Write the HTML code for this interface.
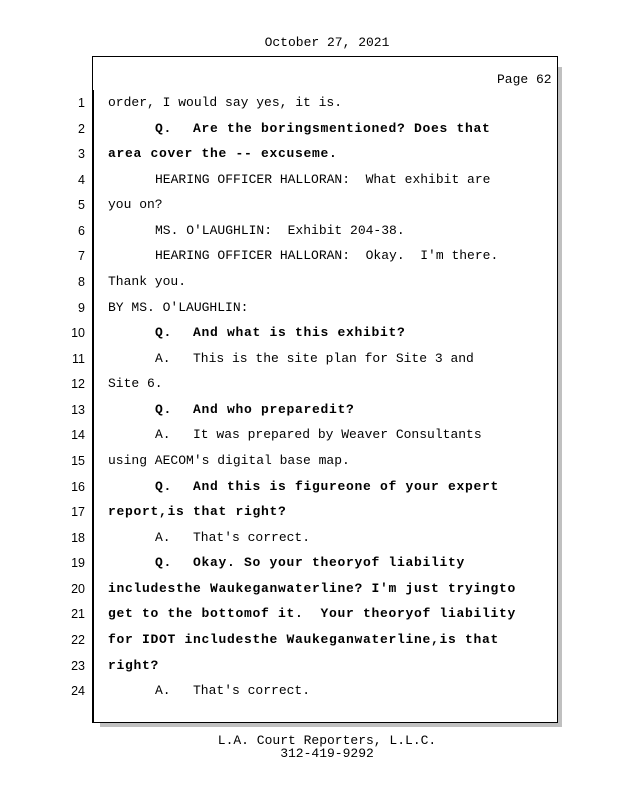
<!DOCTYPE html>
<html><head><meta charset="utf-8"><style>
body{margin:0;width:618px;height:800px;background:#fff;position:relative;overflow:hidden;font-family:"Liberation Mono",monospace;font-size:13px;color:#000}
.a{position:absolute;white-space:pre;line-height:18px}
.n{position:absolute;width:30px;left:55px;text-align:right;font-family:"Liberation Sans",sans-serif;font-size:12.5px;line-height:18px}
.b{font-weight:bold;letter-spacing:0.7px}
</style></head><body>
<div class="a" style="left:0;width:654px;text-align:center;top:34px">October 27, 2021</div>
<div style="position:absolute;left:100px;top:67px;width:462px;height:660px;background:#c0c0c0"></div>
<div style="position:absolute;left:92px;top:56px;width:464px;height:665px;border:1.5px solid #000;background:#fff"></div>
<div class="a" style="left:497px;top:71px">Page 62</div>
<div class="n" style="top:94px">1</div><div class="a" style="left:108px;top:94px">order, I would say yes, it is.</div>
<div class="n" style="top:119.6px">2</div><div class="a b" style="left:155px;top:119.6px">Q.</div><div class="a b" style="left:193px;top:119.6px">Are the boringsmentioned? Does that</div>
<div class="n" style="top:145.1px">3</div><div class="a b" style="left:108px;top:145.1px">area cover the -- excuseme.</div>
<div class="n" style="top:170.7px">4</div><div class="a" style="left:155px;top:170.7px">HEARING OFFICER HALLORAN:  What exhibit are</div>
<div class="n" style="top:196.3px">5</div><div class="a" style="left:108px;top:196.3px">you on?</div>
<div class="n" style="top:221.9px">6</div><div class="a" style="left:155px;top:221.9px">MS. O'LAUGHLIN:  Exhibit 204-38.</div>
<div class="n" style="top:247.4px">7</div><div class="a" style="left:155px;top:247.4px">HEARING OFFICER HALLORAN:  Okay.  I'm there.</div>
<div class="n" style="top:273px">8</div><div class="a" style="left:108px;top:273px">Thank you.</div>
<div class="n" style="top:298.6px">9</div><div class="a" style="left:108px;top:298.6px">BY MS. O'LAUGHLIN:</div>
<div class="n" style="top:324.1px">10</div><div class="a b" style="left:155px;top:324.1px">Q.</div><div class="a b" style="left:193px;top:324.1px">And what is this exhibit?</div>
<div class="n" style="top:349.7px">11</div><div class="a" style="left:155px;top:349.7px">A.</div><div class="a" style="left:193px;top:349.7px">This is the site plan for Site 3 and</div>
<div class="n" style="top:375.3px">12</div><div class="a" style="left:108px;top:375.3px">Site 6.</div>
<div class="n" style="top:400.8px">13</div><div class="a b" style="left:155px;top:400.8px">Q.</div><div class="a b" style="left:193px;top:400.8px">And who preparedit?</div>
<div class="n" style="top:426.4px">14</div><div class="a" style="left:155px;top:426.4px">A.</div><div class="a" style="left:193px;top:426.4px">It was prepared by Weaver Consultants</div>
<div class="n" style="top:452px">15</div><div class="a" style="left:108px;top:452px">using AECOM's digital base map.</div>
<div class="n" style="top:477.6px">16</div><div class="a b" style="left:155px;top:477.6px">Q.</div><div class="a b" style="left:193px;top:477.6px">And this is figureone of your expert</div>
<div class="n" style="top:503.1px">17</div><div class="a b" style="left:108px;top:503.1px">report,is that right?</div>
<div class="n" style="top:528.7px">18</div><div class="a" style="left:155px;top:528.7px">A.</div><div class="a" style="left:193px;top:528.7px">That's correct.</div>
<div class="n" style="top:554.3px">19</div><div class="a b" style="left:155px;top:554.3px">Q.</div><div class="a b" style="left:193px;top:554.3px">Okay. So your theoryof liability</div>
<div class="n" style="top:579.8px">20</div><div class="a b" style="left:108px;top:579.8px">includesthe Waukeganwaterline? I'm just tryingto</div>
<div class="n" style="top:605.4px">21</div><div class="a b" style="left:108px;top:605.4px">get to the bottomof it.  Your theoryof liability</div>
<div class="n" style="top:631px">22</div><div class="a b" style="left:108px;top:631px">for IDOT includesthe Waukeganwaterline,is that</div>
<div class="n" style="top:656.5px">23</div><div class="a b" style="left:108px;top:656.5px">right?</div>
<div class="n" style="top:682.1px">24</div><div class="a" style="left:155px;top:682.1px">A.</div><div class="a" style="left:193px;top:682.1px">That's correct.</div>
<div style="position:absolute;left:92px;top:90px;width:1.5px;height:632px;background:#000"></div>
<div class="a" style="left:0;width:654px;text-align:center;top:732px">L.A. Court Reporters, L.L.C.</div>
<div class="a" style="left:0;width:654px;text-align:center;top:745px">312-419-9292</div>
</body></html>
